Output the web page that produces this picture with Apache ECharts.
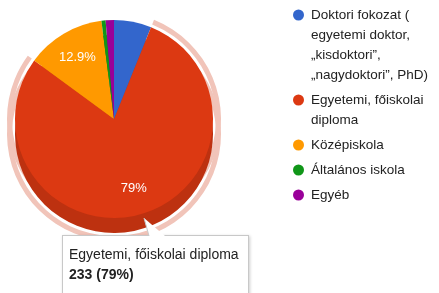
<!DOCTYPE html>
<html lang="hu">
  <head>
    <meta charset="UTF-8" />
    <script src="https://cdn.jsdelivr.net/npm/echarts@6/dist/echarts.min.js"></script>
    <title>Végzettség</title>
    <style>
      html, body { margin: 0; padding: 0; background: #fff; }
    </style>
  </head>
  <body>
    <div id="main" style="width: 439px; height: 293px"></div>
    <script>
      // kategóriák és darabszámok (összesen 295 válasz)
      const categories = [
        "Doktori fokozat ( egyetemi doktor, „kisdoktori”, „nagydoktori”, PhD)",
        "Egyetemi, főiskolai diploma",
        "Középiskola",
        "Általános iskola",
        "Egyéb",
      ];
      const counts = [18, 233, 38, 2, 4];
      // a jelmagyarázat sortörései
      const legendLines = [
        ["Doktori fokozat (", "egyetemi doktor,", "„kisdoktori”,", "„nagydoktori”, PhD)"],
        ["Egyetemi, főiskolai", "diploma"],
        ["Középiskola"],
        ["Általános iskola"],
        ["Egyéb"],
      ];
      const colors = ["#3366cc", "#dc3912", "#ff9900", "#109618", "#990099"];
      const wallColors = ["#2a55ad", "#bd3110", "#d98200", "#0d7d14", "#800080"];
      const highlighted = 1;

      const font = "Liberation Sans, Arial, sans-serif";
      const center = [114, 119];
      const wallCenter = [114, 134];
      const R = 99;

      const pieData = categories.map((name, i) => ({ name: name, value: counts[i] }));

      const rich = {
        g: { width: 7, lineHeight: 20 },
        sp: { width: 18, lineHeight: 20 },
        t: { fontSize: 13.5, color: "#222", lineHeight: 20, fontFamily: font },
      };
      colors.forEach((c, i) => {
        rich["c" + i] = { width: 11, height: 11, borderRadius: 6, backgroundColor: c, lineHeight: 20 };
      });

      const base = {
        type: "pie",
        startAngle: 90,
        clockwise: true,
        silent: true,
        label: { show: false },
        labelLine: { show: false },
        emphasis: { disabled: true },
        tooltip: { show: false },
      };
      const haloColor = (p) => (p.dataIndex === highlighted ? "#f1c4b9" : "rgba(0,0,0,0)");

      var myChart = echarts.init(document.getElementById("main"));
      myChart.setOption({
        animation: false,
        color: colors,
        textStyle: { fontFamily: font },
        tooltip: {
          trigger: "item",
          alwaysShowContent: true,
          showDelay: 0,
          transitionDuration: 0,
          position: [62, 235],
          padding: [0, 0, 0, 0],
          backgroundColor: "#fff",
          borderColor: "#c8c8c8",
          borderWidth: 1,
          extraCssText: "border-radius:0;box-shadow:1px 1px 3px rgba(0,0,0,0.2);width:185px;height:70px;",
          formatter: function (p) {
            return (
              '<div style="position:relative;padding:0 6px;font:14px/20px ' + font + ';color:#222">' +
              '<svg style="position:absolute;left:78px;top:-19px;overflow:visible" width="26" height="20">' +
              '<polygon points="3,1 8,19 24,19" fill="#fff"/>' +
              '<line x1="3" y1="1" x2="8" y2="19" stroke="#c8c8c8"/></svg>' +
              '<div style="padding-top:8px">' + p.name + "</div>" +
              "<b>" + p.value + " (" + Math.round(p.percent) + "%)</b></div>"
            );
          },
        },
        legend: {
          orient: "vertical",
          left: 288,
          top: 5,
          padding: 0,
          itemGap: 5,
          itemWidth: 0,
          itemHeight: 0,
          selectedMode: false,
          data: categories,
          formatter: function (name) {
            const idx = categories.indexOf(name);
            return legendLines[idx]
              .map((l, i) => (i === 0 ? "{c" + idx + "|}{g|}" : "{sp|}") + "{t|" + l + "}")
              .join("\n");
          },
          textStyle: { fontSize: 13.5, lineHeight: 20, rich: rich },
        },
        series: [
          // kiemelő gyűrű az oldalfal körül
          Object.assign({}, base, {
            z: 1,
            center: wallCenter,
            radius: [R + 3, R + 8],
            itemStyle: { color: haloColor, borderWidth: 0 },
            data: pieData,
          }),
          // kiemelő gyűrű a fedőlap körül
          Object.assign({}, base, {
            z: 1,
            center: center,
            radius: [R + 3, R + 8],
            itemStyle: { color: haloColor, borderWidth: 0 },
            data: pieData,
          }),
          // 3D oldalfal
          Object.assign({}, base, {
            z: 2,
            center: wallCenter,
            radius: [0, R],
            itemStyle: { color: (p) => wallColors[p.dataIndex], borderWidth: 0 },
            data: pieData,
          }),
          // fedőlap
          {
            type: "pie",
            z: 3,
            startAngle: 90,
            clockwise: true,
            center: center,
            radius: [0, R],
            label: { show: false },
            labelLine: { show: false },
            emphasis: { disabled: true },
            itemStyle: { borderWidth: 0 },
            data: pieData,
          },
          // százalék feliratok
          Object.assign({}, base, {
            z: 4,
            center: center,
            radius: [42, 96],
            avoidLabelOverlap: false,
            itemStyle: { color: "rgba(0,0,0,0)", borderWidth: 0 },
            label: {
              show: true,
              position: "inside",
              color: "#fff",
              fontSize: 13,
              fontFamily: font,
              formatter: function (p) {
                return p.percent >= 10 ? +p.percent.toFixed(1) + "%" : "";
              },
            },
            data: pieData,
          }),
        ],
      });
      myChart.dispatchAction({ type: "showTip", seriesIndex: 3, dataIndex: highlighted });
    </script>
  </body>
</html>
